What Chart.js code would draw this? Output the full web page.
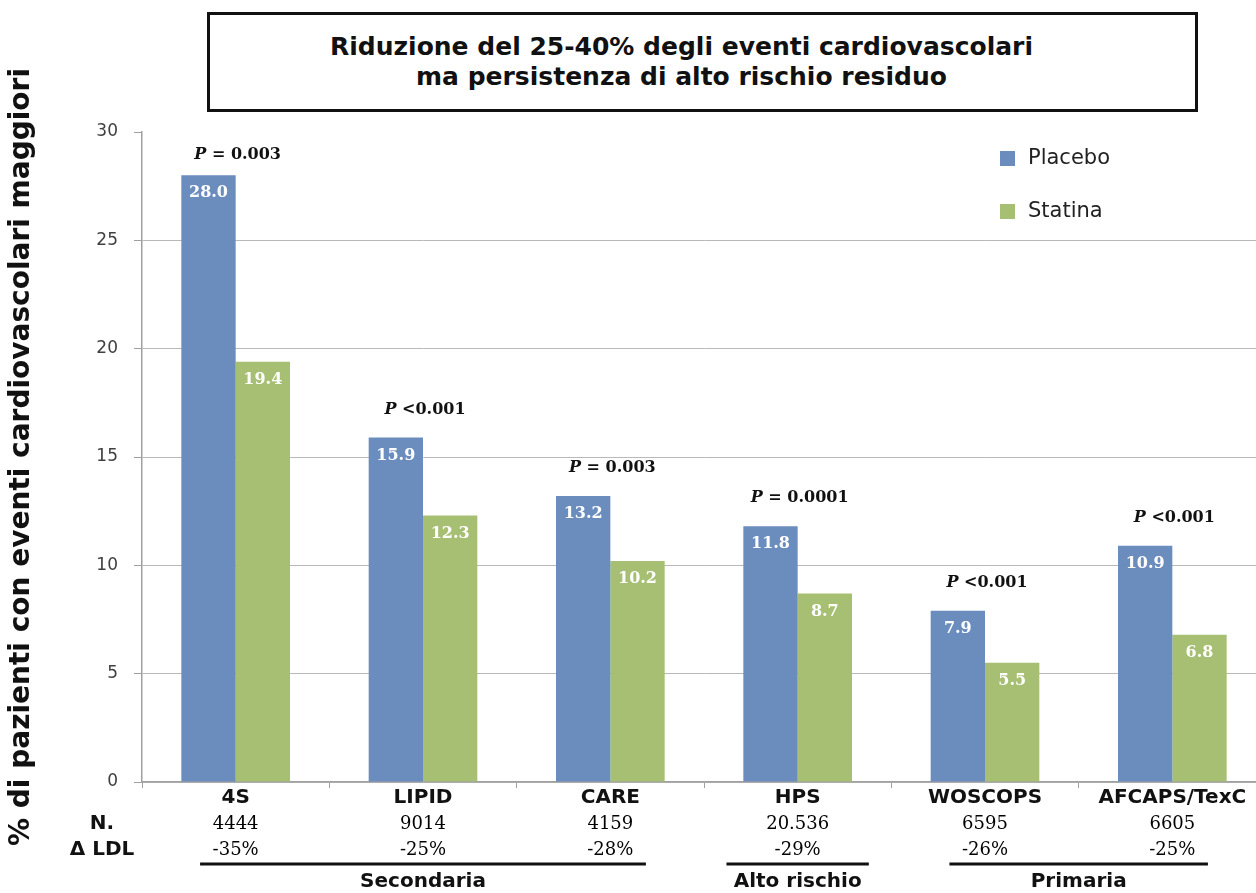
<!DOCTYPE html>
<html>
<head>
<meta charset="utf-8">
<script src="https://cdn.jsdelivr.net/npm/chart.js@4"></script>
<style>
  html, body { margin: 0; padding: 0; background: #fff; overflow: hidden; }
  #wrap { position: absolute; left: 0; top: 0; width: 1266px; height: 893px; }
  #titleBox {
    position: absolute; left: 207px; top: 12px; width: 991px; height: 100px;
    box-sizing: border-box; border: 3px solid #111; background: #fff;
    font-family: 'DejaVu Sans', sans-serif; font-weight: bold; font-size: 25px;
    line-height: 30px; color: #111; text-align: center;
    padding: 17px 42px 0 0;
  }
</style>
</head>
<body>
<div id="wrap">
  <canvas id="chart" width="1266" height="893"></canvas>
  <div id="titleBox">Riduzione del 25-40% degli eventi cardiovascolari<br>ma persistenza di alto rischio residuo</div>
</div>
<script>
// values
const categories = ['4S', 'LIPID', 'CARE', 'HPS', 'WOSCOPS', 'AFCAPS/TexC'];
const placebo = [28.0, 15.9, 13.2, 11.8, 7.9, 10.9];
const statina = [19.4, 12.3, 10.2, 8.7, 5.5, 6.8];
const pValues = ['= 0.003', '<0.001', '= 0.003', '= 0.0001', '<0.001', '<0.001'];
const nPatients = ['4444', '9014', '4159', '20.536', '6595', '6605'];
const deltaLdl = ['-35%', '-25%', '-28%', '-29%', '-26%', '-25%'];
const groupLabels = ['Secondaria', 'Alto rischio', 'Primaria'];
const groupFirst = [0, 3, 4];
const groupLast = [2, 3, 5];

const BLUE = '#6a8dbe';
const GREEN = '#a7bf72';
const GRID = '#b9b9b9';
const AXIS = '#a0a0a0';

Chart.defaults.font.family = "'DejaVu Sans', sans-serif";

// labels inside bars, P values, table rows under the axis, custom legend
const extras = {
  id: 'extras',
  afterDatasetsDraw(chart) {
    const ctx = chart.ctx;
    const area = chart.chartArea;
    ctx.save();
    ctx.textAlign = 'center';
    ctx.textBaseline = 'middle';
    ctx.fillStyle = '#fff';
    ctx.font = "bold 16px 'DejaVu Serif'";
    chart.data.datasets.forEach((ds, di) => {
      chart.getDatasetMeta(di).data.forEach((bar, i) => {
        ctx.fillText(ds.data[i].toFixed(1), bar.x, bar.y + 18);
      });
    });

    // P values above each pair
    const meta = chart.getDatasetMeta(0);
    const x = chart.scales.x;
    pValues.forEach((p, i) => {
      const cx = x.getPixelForValue(i) + 2;
      const y = Math.max(meta.data[i].y - 28, area.top + 23);
      ctx.font = "italic bold 16px 'DejaVu Serif'";
      const wP = ctx.measureText('P ').width;
      ctx.font = "bold 16px 'DejaVu Serif'";
      const wR = ctx.measureText(p).width;
      const left = cx - (wP + wR) / 2;
      ctx.fillStyle = '#111';
      ctx.textAlign = 'left';
      ctx.font = "italic bold 16px 'DejaVu Serif'";
      ctx.fillText('P', left, y);
      ctx.font = "bold 16px 'DejaVu Serif'";
      ctx.fillText(p, left + wP, y);
    });
    ctx.restore();
  },
  afterDraw(chart) {
    const ctx = chart.ctx;
    const x = chart.scales.x;
    const catW = x.getPixelForValue(1) - x.getPixelForValue(0);
    ctx.save();
    ctx.fillStyle = '#111';
    ctx.textAlign = 'center';
    ctx.textBaseline = 'middle';

    ctx.font = "bold 20px 'DejaVu Sans'";
    ctx.fillText('N.', 102, 824);
    ctx.fillText('\u0394 LDL', 102, 850);

    ctx.fillStyle = '#000';
    ctx.font = "18px 'DejaVu Serif'";
    categories.forEach((c, i) => {
      const cx = x.getPixelForValue(i);
      ctx.fillText(nPatients[i], cx, 824);
      ctx.fillText(deltaLdl[i], cx, 850);
    });

    ctx.fillStyle = '#111';
    ctx.strokeStyle = '#111';
    ctx.lineWidth = 3;
    ctx.font = "bold 20px 'DejaVu Sans'";
    groupLabels.forEach((g, k) => {
      const a = x.getPixelForValue(groupFirst[k]);
      const b = x.getPixelForValue(groupLast[k]);
      const pad = groupLast[k] > groupFirst[k] ? 0.19 * catW : 0.38 * catW;
      ctx.beginPath();
      ctx.moveTo(a - pad, 864);
      ctx.lineTo(b + pad, 864);
      ctx.stroke();
      ctx.fillText(g, (a + b) / 2, 882);
    });

    // legend, stacked in the upper right
    ctx.textAlign = 'left';
    ctx.font = "21px 'DejaVu Sans'";
    chart.data.datasets.forEach((ds, di) => {
      const cy = 159 + di * 53;
      ctx.fillStyle = ds.backgroundColor;
      ctx.fillRect(1000, cy - 8, 15, 15);
      ctx.fillStyle = '#222';
      ctx.fillText(ds.label, 1028, cy);
    });
    ctx.restore();
  }
};

new Chart(document.getElementById('chart'), {
  type: 'bar',
  data: {
    labels: categories,
    datasets: [
      { label: 'Placebo', data: placebo, backgroundColor: BLUE },
      { label: 'Statina', data: statina, backgroundColor: GREEN }
    ]
  },
  options: {
    responsive: false,
    animation: false,
    categoryPercentage: 0.58,
    barPercentage: 1.0,
    layout: { padding: { top: 132, left: 0, right: 0, bottom: 0 } },
    plugins: {
      legend: { display: false },
      tooltip: { enabled: false }
    },
    scales: {
      x: {
        afterFit(scale) { scale.height = 111; },
        grid: { drawOnChartArea: false, color: AXIS, tickLength: 6 },
        border: { color: AXIS, width: 1.5 },
        ticks: {
          color: '#111', padding: 0,
          font: { size: 20, weight: 'bold', lineHeight: 1 }
        }
      },
      y: {
        min: 0, max: 30,
        afterFit(scale) { scale.width = 142; },
        ticks: { stepSize: 5, color: '#404040', padding: 16, font: { size: 17 } },
        grid: {
          color: (c) => (c.tick && c.tick.value === 30 ? 'rgba(0,0,0,0)' : GRID),
          tickColor: AXIS,
          tickLength: 8
        },
        border: { color: AXIS, width: 1.5 },
        title: {
          display: true,
          text: '% di pazienti con eventi cardiovascolari maggiori',
          color: '#111',
          font: { size: 28, weight: 'bold' },
          padding: { top: 5, bottom: 0 }
        }
      }
    }
  },
  plugins: [extras]
});
</script>
</body>
</html>
